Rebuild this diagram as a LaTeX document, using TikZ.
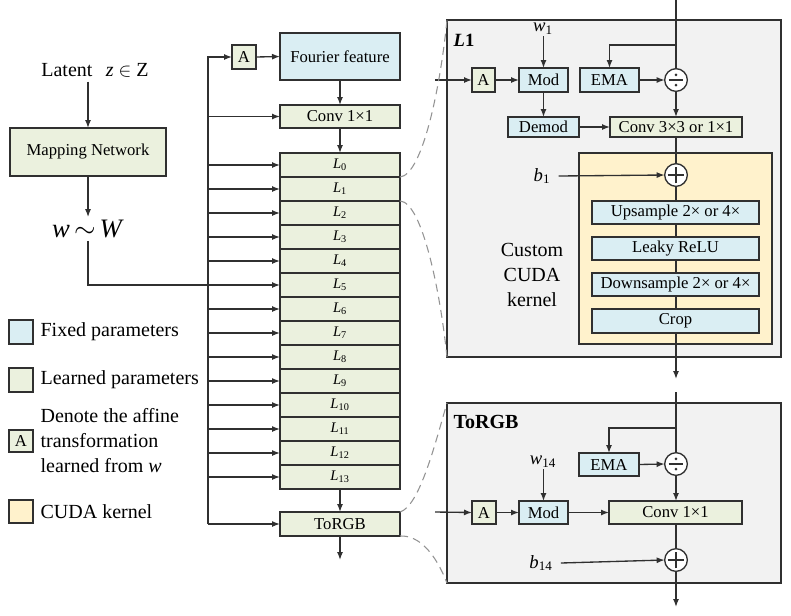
\documentclass[tikz,border=0pt]{standalone}
\usepackage{fontspec}
\setmainfont{Liberation Serif}
\usetikzlibrary{arrows.meta}
\definecolor{fixb}{HTML}{DAEEF3}
\definecolor{lrng}{HTML}{EBF1DE}
\definecolor{cuda}{HTML}{FFF2CC}
\definecolor{pnl}{HTML}{F2F2F2}
\definecolor{ln}{HTML}{303030}
\newcommand{\bx}[7]{%
  \pgfmathsetmacro{\bxcx}{(#2+#4)/2}%
  \pgfmathsetmacro{\bxcy}{(#3+#5)/2}%
  \pgfmathsetmacro{\bxw}{(#4-#2)*0.75}%
  \pgfmathsetmacro{\bxh}{(#5-#3)*0.75}%
  \node[#6, minimum width=\bxw pt, minimum height=\bxh pt] (#1) at (\bxcx,\bxcy) {#7};}
\begin{document}
\begin{tikzpicture}[x=0.75pt,y=-0.75pt,
  bxs/.style={draw=ln, line width=1pt, inner sep=0pt, outer sep=0pt, font=\fontsize{12.5}{15}\selectfont},
  fixd/.style={bxs, fill=fixb},
  lrn/.style={bxs, fill=lrng},
  lrnl/.style={lrn, font=\fontsize{11}{13}\selectfont},
  cud/.style={bxs, fill=cuda},
  pan/.style={bxs, fill=pnl},
  ar/.style={draw=ln, line width=1pt, -{Latex[length=6pt,width=4.5pt]}},
  pl/.style={draw=ln, line width=1pt},
  dsh/.style={draw=gray!85, line width=0.8pt, dash pattern=on 6pt off 4pt},
  circ/.style={circle, draw=ln, fill=white, line width=1pt, minimum size=17pt, inner sep=0pt, outer sep=0pt},
  lab/.style={font=\fontsize{14}{16}\selectfont, inner sep=1pt},
  lgt/.style={font=\fontsize{15}{18.75}\selectfont, inner sep=1pt, anchor=west},
]
\useasboundingbox (0,0) rectangle (791,615);

% ---------- left part ----------
\node[font=\fontsize{15}{18}\selectfont] (latent) at (95,70) {Latent\hspace{10pt}\textit{z} $\in$ Z};
\bx{map}{10}{128}{166}{176}{lrn}{Mapping Network}
\node[font=\fontsize{20}{24}\selectfont, inner sep=2pt] (wlab) at (88,229) {\textit{w}\hspace{3pt}$\sim$\hspace{3pt}\textit{W}};
\draw[ar] (latent.south -| map.north) -- (map.north);
\draw[ar] (map.south) -- (map.south |- wlab.north);

% ---------- main column ----------
\bx{four}{280}{33}{400}{80}{fixd}{Fourier feature}
\bx{a0}{232}{45}{256}{69}{lrn}{A}
\bx{conv0}{280}{105}{400}{128}{lrn}{Conv 1×1}
\foreach \i in {0,...,13}{
  \pgfmathsetmacro{\yt}{153+24*\i}
  \pgfmathsetmacro{\yb}{177+24*\i}
  \bx{L\i}{280}{\yt}{400}{\yb}{lrnl}{\textit{L}\textsubscript{\i}}
}
\bx{torgb}{280}{512}{400}{536}{lrn}{ToRGB}
\coordinate (busB) at (208,524);
\coordinate (out0) at (340,560);
\draw[ar] (busB) |- (a0.west);
\draw[ar] (busB) -- (torgb.west);
\draw[ar] (a0.east) -- (four.west);
\draw[ar] (four.south) -- (conv0.north);
\draw[ar] (conv0.south) -- (L0.north);
\draw[ar] (L13.south) -- (torgb.north);
\draw[ar] (torgb.south) -- (out0);
\draw[ar] (conv0.west -| busB) -- (conv0.west);
\foreach \i in {0,1,2,3,4,6,7,8,9,10,11,12,13}{
  \draw[ar] (L\i.west -| busB) -- (L\i.west);
}
\draw[ar] (wlab.south) |- (L5.west);

% ---------- legend ----------
\bx{lg1}{9}{320}{33}{344}{fixd}{}
\node[lgt] (lt1) at (39,332) {Fixed parameters};
\bx{lg2}{9}{368}{33}{392}{lrn}{}
\node[lgt] (lt2) at (39,380) {Learned parameters};
\bx{lg3}{9}{430}{33}{452}{lrn}{A}
\node[lgt, align=left] (lt3) at (39,441) {Denote the affine\\transformation\\learned from \textit{w}};
\bx{lg4}{9}{500}{33}{523}{cud}{}
\node[lgt] (lt4) at (39,512) {CUDA kernel};

% ---------- L1 panel ----------
\bx{p1}{447}{20}{781}{357}{pan}{}
\node[anchor=west, font=\bfseries\fontsize{14}{16}\selectfont, inner sep=1pt] (p1lab) at (452,40) {\textit{L}1};
\bx{cudabox}{579}{153}{772}{344}{cud}{}
\bx{a1}{472}{68}{495}{92}{lrn}{A}
\bx{mod1}{519}{68}{568}{92}{fixd}{Mod}
\bx{ema1}{580}{68}{639}{92}{fixd}{EMA}
\node[circ] (div1) at (676,80) {};
\bx{dem1}{508}{117}{579}{137}{fixd}{Demod}
\bx{cv1}{610}{117}{742}{137}{lrn}{Conv 3×3 or 1×1}
\node[circ] (add1) at (676,175) {};
\bx{up1}{592}{201}{759}{224}{fixd}{Upsample 2× or 4×}
\bx{lr1}{592}{237}{759}{260}{fixd}{Leaky ReLU}
\bx{dn1}{592}{273}{759}{296}{fixd}{Downsample 2× or 4×}
\bx{cr1}{592}{309}{759}{333}{fixd}{Crop}
\node[lab] (w1) at (543,29) {\textit{w}\textsubscript{1}};
\node[lab] (b1) at (542,176) {\textit{b}\textsubscript{1}};
\node[align=center, font=\fontsize{15}{18.75}\selectfont] (cck) at (532,275) {Custom\\CUDA\\kernel};
\coordinate (in1) at (676,0);
\coordinate (br1) at (676,45);
\coordinate (src1) at (435,80);
\coordinate (out1) at (676,379);
\draw[pl] (in1) -- (div1.north);
\draw[ar] (br1) -| (ema1.north);
\draw[ar] (ema1.east) -- (div1.west);
\draw[ar] (div1.south) -- (div1.south |- cv1.north);
\draw[ar] (src1) -- (a1.west);
\draw[ar] (a1.east) -- (mod1.west);
\draw[ar] (w1.south -| mod1.north) -- (mod1.north);
\draw[ar] (mod1.south) -- (mod1.south |- dem1.north);
\draw[ar] (dem1.east) -- (cv1.west);
\draw[pl] (cv1.south) -- (add1.north);
\draw[ar] ([xshift=5pt]b1.east) -- (add1.west);
\draw[pl] (add1.south) -- (add1.south |- up1.north);
\draw[pl] (up1.south -| add1.south) -- (add1.south |- lr1.north);
\draw[pl] (lr1.south -| add1.south) -- (add1.south |- dn1.north);
\draw[pl] (dn1.south -| add1.south) -- (add1.south |- cr1.north);
\draw[ar] (cr1.south -| add1.south) -- (out1);

% ---------- ToRGB panel ----------
\bx{p2}{447}{403}{781}{583}{pan}{}
\node[anchor=west, font=\bfseries\fontsize{15}{18}\selectfont, inner sep=1pt] (p2lab) at (452,422) {ToRGB};
\bx{ema2}{579}{453}{639}{476}{fixd}{EMA}
\node[circ] (div2) at (676,464) {};
\bx{a2}{472}{501}{496}{524}{lrn}{A}
\bx{mod2}{519}{501}{568}{524}{fixd}{Mod}
\bx{cv2}{609}{501}{742}{524}{lrn}{Conv 1×1}
\node[circ] (add2) at (676,560) {};
\node[lab] (w2) at (543,462) {\textit{w}\textsubscript{14}};
\node[lab] (b2) at (541,563) {\textit{b}\textsubscript{14}};
\coordinate (in2) at (676,392);
\coordinate (br2) at (676,428);
\coordinate (src2) at (435,512);
\coordinate (out2) at (676,607);
\draw[pl] (in2) -- (div2.north);
\draw[ar] (br2) -| (ema2.north);
\draw[ar] (ema2.east) -- (div2.west);
\draw[ar] (div2.south) -- (div2.south |- cv2.north);
\draw[ar] (src2) -- (a2.west);
\draw[ar] (a2.east) -- (mod2.west);
\draw[ar] (w2.south -| mod2.north) -- (mod2.north);
\draw[ar] (mod2.east) -- (cv2.west);
\draw[pl] (cv2.south -| add2.north) -- (add2.north);
\draw[ar] ([xshift=5pt]b2.east) -- (add2.west);
\draw[ar] (add2.south) -- (out2);

% ---------- operator symbols ----------
\foreach \c in {div1,div2}{
  \draw[draw=ln, line width=1.2pt] ([xshift=-5.5pt]\c.center) -- ([xshift=5.5pt]\c.center);
  \fill[ln] ([yshift=3.8pt]\c.center) circle (1.1pt);
  \fill[ln] ([yshift=-3.8pt]\c.center) circle (1.1pt);
}
\foreach \c in {add1,add2}{
  \draw[draw=ln, line width=1.6pt] ([xshift=-6.3pt]\c.center) -- ([xshift=6.3pt]\c.center);
  \draw[draw=ln, line width=1.6pt] ([yshift=-6.3pt]\c.center) -- ([yshift=6.3pt]\c.center);
}

% ---------- dashed zoom curves ----------
\draw[dsh] (L0.south east) .. controls (422,175) and (440,90) .. (p1.north west);
\draw[dsh] (L1.south east) .. controls (422,202) and (440,290) .. (p1.south west);
\draw[dsh] (torgb.north east) .. controls (420,506) and (436,440) .. (p2.north west);
\draw[dsh] (torgb.south east) .. controls (420,535) and (436,555) .. (p2.south west);
\end{tikzpicture}
\end{document}
